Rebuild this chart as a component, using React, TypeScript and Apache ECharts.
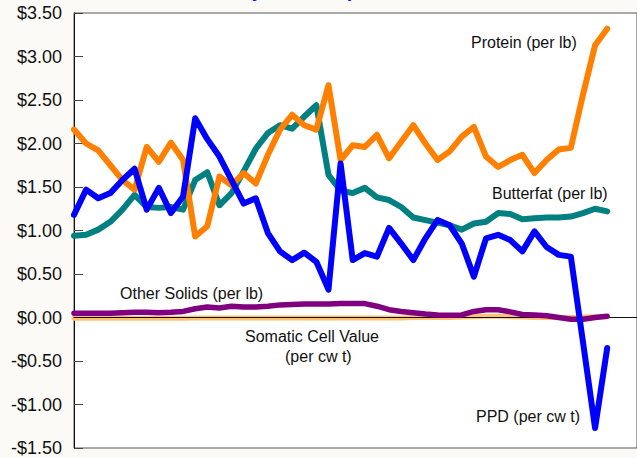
import React, { useEffect, useRef } from "react";
import * as echarts from "echarts";

const yTicks = [-1.5, -1.0, -0.5, 0, 0.5, 1.0, 1.5, 2.0, 2.5, 3.0, 3.5];

const ppd = [
  1.18, 1.47, 1.37, 1.43, 1.58, 1.71, 1.24, 1.49, 1.2, 1.39, 2.29, 2.05, 1.85, 1.58, 1.31,
  1.37, 0.97, 0.76, 0.66, 0.745, 0.64, 0.32, 1.77, 0.66, 0.74, 0.7, 1.03, 0.85, 0.66, 0.91,
  1.12, 1.06, 0.85, 0.47, 0.91, 0.95, 0.89, 0.76, 0.99, 0.81, 0.72, 0.7, -0.28, -1.27, -0.35,
];

const protein = [
  2.16, 2.0, 1.92, 1.75, 1.58, 1.47, 1.96, 1.79, 2.01, 1.81, 0.93, 1.05, 1.62, 1.52, 1.66,
  1.54, 1.87, 2.16, 2.33, 2.21, 2.16, 2.67, 1.81, 1.98, 1.96, 2.1, 1.83, 2.02, 2.21, 2.0,
  1.81, 1.91, 2.08, 2.19, 1.85, 1.73, 1.81, 1.87, 1.66, 1.81, 1.93, 1.95, 2.56, 3.13, 3.32,
];

const butterfat = [
  0.94, 0.95, 1.01, 1.1, 1.24, 1.41, 1.27, 1.26, 1.27, 1.24, 1.58, 1.67, 1.29, 1.43, 1.68,
  1.94, 2.12, 2.21, 2.17, 2.31, 2.44, 1.64, 1.46, 1.43, 1.49, 1.38, 1.35, 1.27, 1.15, 1.12,
  1.09, 1.06, 1.01, 1.08, 1.1, 1.2, 1.19, 1.13, 1.14, 1.15, 1.15, 1.16, 1.2, 1.25, 1.22,
];

const otherSolids = [
  0.05, 0.05, 0.05, 0.05, 0.055, 0.06, 0.06, 0.055, 0.06, 0.07, 0.1, 0.12, 0.11, 0.13, 0.12,
  0.12, 0.13, 0.145, 0.15, 0.155, 0.155, 0.155, 0.16, 0.16, 0.16, 0.13, 0.09, 0.07, 0.055, 0.04,
  0.03, 0.025, 0.03, 0.07, 0.09, 0.09, 0.065, 0.035, 0.03, 0.02, 0.0, -0.02, -0.02, 0.0, 0.015,
];

const somatic = [
  -0.01, -0.01, -0.01, -0.01, -0.01, -0.01, -0.01, -0.01, -0.01, -0.01, -0.005, -0.005, -0.005, -0.005, -0.005,
  -0.005, -0.005, -0.005, -0.005, -0.005, -0.005, -0.005, -0.005, -0.005, -0.005, -0.005, -0.005, -0.005, 0.0, 0.0,
  0.0, 0.0, 0.005, 0.01, 0.015, 0.015, 0.01, 0.005, 0.0, 0.0, 0.0, 0.0, 0.005, 0.01, 0.01,
];

const seriesNames = [
  "PPD (per cw t)",
  "Protein (per lb)",
  "Butterfat (per lb)",
  "Other Solids (per lb)",
  "Somatic Cell Value (per cw t)",
];

const toPairs = (arr: number[]) => arr.map((v, i) => [i, v]);

const fmt = (v: number) => (v < 0 ? "-$" + Math.abs(v).toFixed(2) : "$" + v.toFixed(2));

export default function App() {
  const ref = useRef<HTMLDivElement>(null);
  useEffect(() => {
    if (!ref.current) return;
    const chart = echarts.init(ref.current, undefined, { renderer: "svg" });
    const lineBase = (name: string, data: number[], color: string, width: number, z: number) => ({
      name,
      type: "line",
      data: toPairs(data),
      showSymbol: false,
      symbol: "none",
      z,
      lineStyle: { color, width, cap: "round", join: "round" },
    });
    const labelFont = { fontFamily: "Liberation Sans, Arial, sans-serif", fontSize: 16, fill: "#111" };
    chart.setOption({
      animation: false,
      backgroundColor: "#fbfaf7",
      grid: {
        left: 74,
        top: 13,
        right: -2,
        bottom: 10,
        show: true,
        backgroundColor: "#ffffff",
        borderColor: "#555",
        borderWidth: 1,
      },
      xAxis: {
        type: "value",
        min: 0,
        max: 46.46,
        z: 2,
        axisLine: { show: true, onZero: true, lineStyle: { color: "#111", width: 1 } },
        axisTick: { show: false },
        axisLabel: { show: false },
        splitLine: { show: false },
      },
      yAxis: {
        type: "value",
        min: yTicks[0],
        max: yTicks[yTicks.length - 1],
        interval: 0.5,
        axisLine: { show: true, onZero: false, lineStyle: { color: "#111", width: 1 } },
        axisTick: { show: true, inside: true, length: 9, lineStyle: { color: "#444" } },
        axisLabel: {
          formatter: fmt,
          fontSize: 18,
          color: "#111",
          margin: 12,
          fontFamily: "Liberation Sans, Arial, sans-serif",
        },
        splitLine: { show: false },
      },
      series: [
        lineBase(seriesNames[4], somatic, "#fcc271", 5, 1),
        lineBase(seriesNames[3], otherSolids, "#800080", 5.5, 3),
        lineBase(seriesNames[2], butterfat, "#008080", 6, 4),
        lineBase(seriesNames[1], protein, "#ff8000", 6, 5),
        lineBase(seriesNames[0], ppd, "#0000ff", 6, 6),
      ],
      graphic: [
        {
          type: "text",
          left: 193,
          top: -18,
          style: {
            text: "Monthly Milk Component Values",
            fontFamily: "Liberation Sans, Arial, sans-serif",
            fontSize: 18,
            fontWeight: "bold",
            fill: "#0000ff",
          },
          z: 10,
        },
        { type: "text", x: 471, y: 42, style: { ...labelFont, text: "Protein (per lb)", verticalAlign: "middle" }, z: 10 },
        { type: "text", x: 492, y: 193, style: { ...labelFont, text: "Butterfat (per lb)", verticalAlign: "middle" }, z: 10 },
        { type: "text", x: 120, y: 293, style: { ...labelFont, text: "Other Solids (per lb)", verticalAlign: "middle" }, z: 10 },
        { type: "text", x: 245, y: 336, style: { ...labelFont, text: "Somatic Cell Value", verticalAlign: "middle" }, z: 10 },
        { type: "text", x: 285, y: 356, style: { ...labelFont, text: "(per cw t)", verticalAlign: "middle" }, z: 10 },
        { type: "text", x: 476, y: 416, style: { ...labelFont, text: "PPD (per cw t)", verticalAlign: "middle" }, z: 10 },
      ],
    });
    return () => chart.dispose();
  }, []);
  return (
    <div
      ref={ref}
      style={{ position: "fixed", left: 0, top: 0, width: 637, height: 458 }}
    />
  );
}
